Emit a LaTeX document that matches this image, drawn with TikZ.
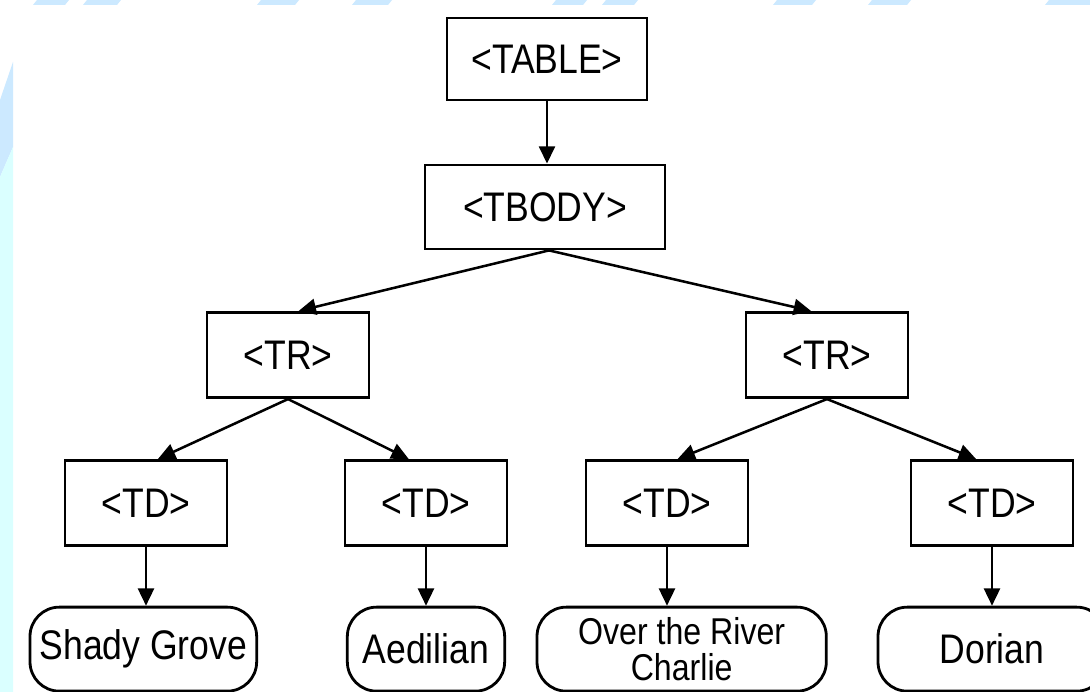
\documentclass[tikz,border=0pt]{standalone}
\usepackage{fontspec}
\setmainfont{Liberation Sans}[FakeStretch=0.86]
\usepackage{xcolor}
\usepackage{tikz}
\usetikzlibrary{positioning,arrows.meta}

\definecolor{stripeblue}{RGB}{204,233,255}
\definecolor{stripecyan}{RGB}{218,255,255}

\begin{document}
\begin{tikzpicture}[
        x=0.75pt, y=-0.75pt,
        font=\fontsize{31}{25}\selectfont,
        >={Triangle[length=13pt,width=12pt]},
        tagbox/.style={rectangle, draw, line width=2.1pt, minimum width=121.5pt, minimum height=64pt, inner sep=2pt, align=center},
        leaf/.style={rectangle, rounded corners=22pt, draw, line width=2.1pt, minimum height=63pt, inner sep=2pt, align=center},
        link/.style={->, line width=1.9pt}
    ]
        % page and background stripes
        \useasboundingbox (0,0) rectangle (1090,692);
        \clip (0,0) rectangle (1090,692);
        \fill[white] (0,0) rectangle (1090,692);
        \foreach \a/\b in {33/65, 83/117, 257/295, 352/388, 552/583, 602/634, 773/812, 868/907, 1045/1094}
            \fill[stripeblue] (\a,5) -- (\a+4,0) -- (\b+4,0) -- (\b,5) -- cycle;
        \fill[stripeblue] (13,62) -- (13,147) -- (0,177) -- (0,100) -- cycle;
        \fill[stripecyan] (13,147) -- (13,692) -- (0,692) -- (0,177) -- cycle;

        \node[tagbox, minimum width=150pt, minimum height=61.5pt] (table) at (547,59) {<TABLE>};
        \node[tagbox, minimum width=180pt, minimum height=63pt] (tbody) at (545,207) {<TBODY>};
        \node[tagbox] (trleft) at (288,355) {<TR>};
        \node[tagbox] (trright) at (827,355) {<TR>};
        \node[tagbox] (tdone) at (146,503) {<TD>};
        \node[tagbox] (tdtwo) at (426,503) {<TD>};
        \node[tagbox] (tdthree) at (667,503) {<TD>};
        \node[tagbox] (tdfour) at (992,503) {<TD>};
        \node[leaf, minimum width=170pt, below=44pt of tdone, xshift=-2pt] (shady) {Shady Grove};
        \node[leaf, minimum width=118pt, below=44pt of tdtwo] (aedilian) {Aedilian};
        \node[leaf, minimum width=217pt, below=44pt of tdthree, xshift=11pt, font=\fontsize{28}{27.5}\selectfont, inner sep=0pt] (river) {Over the River\\Charlie};
        \node[leaf, minimum width=171pt, below=44pt of tdfour] (dorian) {Dorian};

        \draw[link] (table.south) -- (table.south |- tbody.north);
        \draw[link] ([xshift=3pt]tbody.south) -- ([xshift=8pt]trleft.north);
        \draw[link] ([xshift=3pt]tbody.south) -- ([xshift=-12pt]trright.north);
        \draw[link] (trleft.south) -- ([xshift=9pt]tdone.north);
        \draw[link] (trleft.south) -- ([xshift=-13pt]tdtwo.north);
        \draw[link] (trright.south) -- ([xshift=8pt]tdthree.north);
        \draw[link] (trright.south) -- ([xshift=-12pt]tdfour.north);
        \draw[link] (tdone.south) -- (tdone.south |- shady.north);
        \draw[link] (tdtwo.south) -- (tdtwo.south |- aedilian.north);
        \draw[link] (tdthree.south) -- (tdthree.south |- river.north);
        \draw[link] (tdfour.south) -- (tdfour.south |- dorian.north);
    \end{tikzpicture}
\end{document}
